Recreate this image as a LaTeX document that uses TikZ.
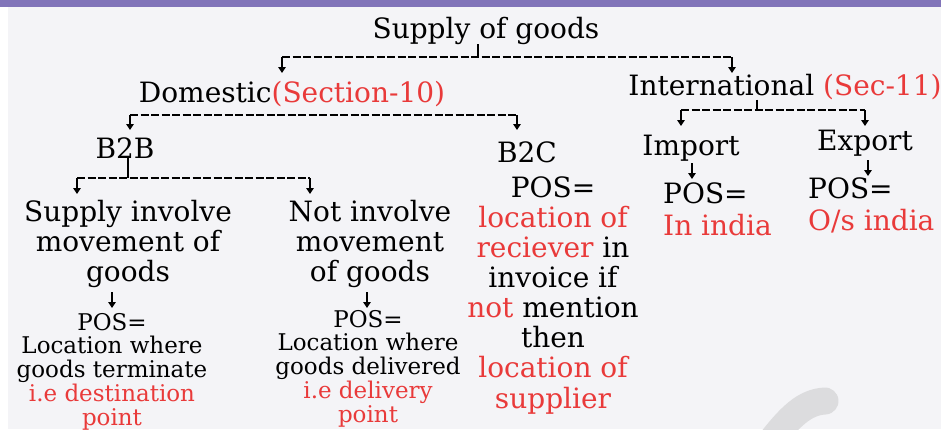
\documentclass[tikz,border=0pt]{standalone}
\usepackage{fontspec}
\setmainfont{DejaVu Serif}
\usetikzlibrary{arrows.meta}

\begin{document}
\begin{tikzpicture}[x=1pt, y=-1pt,
    every node/.style={inner sep=0pt},
    big/.style={anchor=base, align=center, font=\fontsize{28}{29.8}\selectfont},
    posblock/.style={anchor=base west, align=left, font=\fontsize{28}{32}\selectfont},
    small/.style={anchor=base, align=center, font=\fontsize{23}{23.75}\selectfont},
    dashline/.style={line width=1.8pt, dash pattern=on 8pt off 2.5pt},
    stem/.style={line width=1.8pt},
    drop/.style={line width=1.8pt, -{Triangle[length=6pt,width=7.5pt]}}]

    \definecolor{barColour}{HTML}{8174B9}
    \definecolor{paperColour}{HTML}{F4F4F7}
    \definecolor{markColour}{HTML}{DCDCDE}
    \definecolor{redText}{HTML}{E93A3A}

    \useasboundingbox (0,0) rectangle (941,429);

    % Draw background
    \fill[paperColour] (8,0) rectangle (941,429);
    \fill[barColour] (0,0) rectangle (941,7);
    \begin{scope}
        \clip (0,0) rectangle (941,429);
        \draw[markColour, line width=27pt, line cap=round]
            (768,445) .. controls (790,416) and (805,402) .. (825,401);
    \end{scope}

    % Top level (multi-line nodes sit on their last baseline)
    \node[big] (sup) at (486,38) {Supply of goods};
    \node[big] (dom) at (292,102) {Domestic\textcolor{redText}{(Section-10)}};
    \node[big] (int) at (785,95) {International \textcolor{redText}{(Sec-11)}};

    \coordinate (supJoin) at (478,57);
    \coordinate (supLeft) at (282,57);
    \coordinate (supRight) at (732,57);
    \draw[stem] (sup.south -| supJoin) -- (supJoin);
    \draw[dashline] (supLeft) -- (supRight);
    \draw[drop] (supLeft) -- ++(0,16);
    \draw[drop] (supRight) -- ++(0,16);

    % Domestic branch
    \node[big] (b2b) at (125,158) {B2B};
    \node[big] (b2c) at (527,162) {B2C};

    \coordinate (domLeft) at (130,115);
    \coordinate (domRight) at (517,115);
    \draw[dashline] (domLeft) -- (domRight);
    \draw[drop] (domLeft) -- ++(0,15);
    \draw[drop] (domRight) -- ++(0,15);

    % B2B branch
    \node[big] (move) at (128,281) {Supply involve\\movement of\\goods};
    \node[big] (nomove) at (370,281) {Not involve\\movement\\of goods};

    \coordinate (b2bJoin) at (128,178);
    \coordinate (b2bLeft) at (77,178);
    \coordinate (b2bRight) at (310,178);
    \draw[stem] (b2b.south -| b2bJoin) -- (b2bJoin);
    \draw[dashline] (b2bLeft) -- (b2bRight);
    \draw[drop] (b2bLeft) -- ++(0,16);
    \draw[drop] (b2bRight) -- ++(0,16);

    \node[small] (posMove) at (112,425) {POS=\\Location where\\goods terminate\\
        \textcolor{redText}{i.e destination}\\\textcolor{redText}{point}};
    \node[small] (posNoMove) at (368,422) {POS=\\Location where\\goods delivered\\
        \textcolor{redText}{i.e delivery}\\\textcolor{redText}{point}};
    \coordinate (moveDrop) at (112,292);
    \coordinate (nomoveDrop) at (367,292);
    \draw[drop] (moveDrop) -- ++(0,16);
    \draw[drop] (nomoveDrop) -- ++(0,16);

    % B2C
    \node[big, font=\fontsize{28}{30.1}\selectfont] (posB2c) at (553,408) {POS=\\
        \textcolor{redText}{location of}\\
        \textcolor{redText}{reciever} in\\
        invoice if\\
        \textcolor{redText}{not} mention\\
        then\\
        \textcolor{redText}{location of}\\
        \textcolor{redText}{supplier}};

    % International branch
    \node[big] (imp) at (691,155) {Import};
    \node[big] (exp) at (865,150) {Export};

    \coordinate (intJoin) at (757,110);
    \coordinate (intLeft) at (681,110);
    \coordinate (intRight) at (865,110);
    \draw[stem] (int.south -| intJoin) -- (intJoin);
    \draw[dashline] (intLeft) -- (intRight);
    \draw[drop] (intLeft) -- ++(0,16);
    \draw[drop] (intRight) -- ++(0,16);

    \node[posblock] (posImp) at (663,235) {POS=\\\textcolor{redText}{In india}};
    \node[posblock] (posExp) at (808,230) {POS=\\\textcolor{redText}{O/s india}};
    \coordinate (impDrop) at (692,163);
    \coordinate (expDrop) at (868,160);
    \draw[drop] (impDrop) -- ++(0,16);
    \draw[drop] (expDrop) -- ++(0,16);

\end{tikzpicture}
\end{document}
